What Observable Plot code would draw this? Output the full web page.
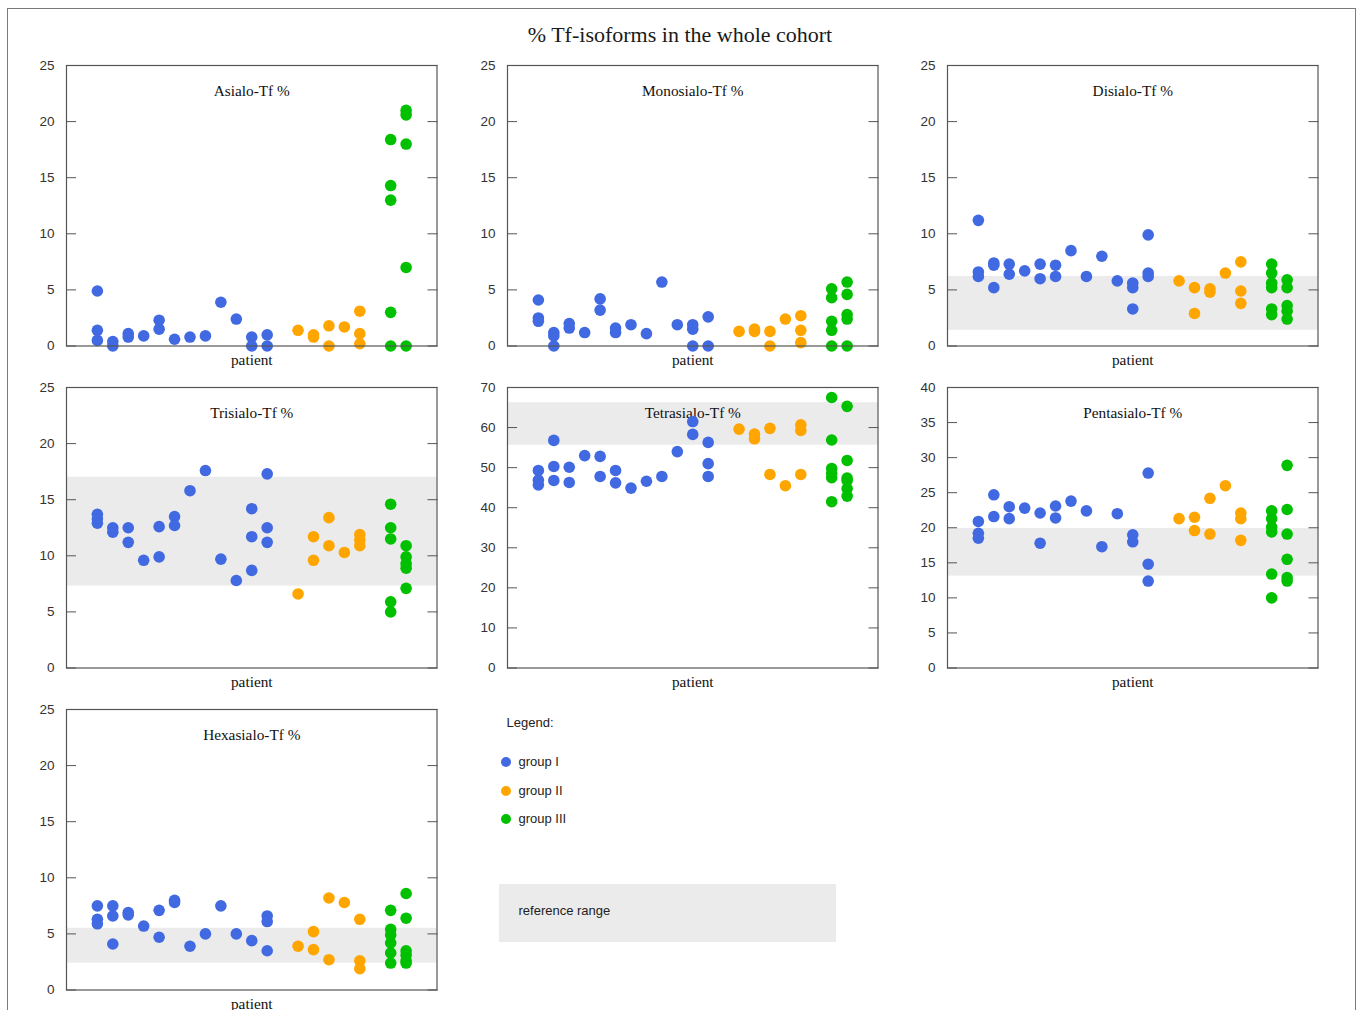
<!DOCTYPE html>
<html>
<head>
<meta charset="utf-8">
<script src="https://cdn.jsdelivr.net/npm/d3@7"></script>
<script src="https://cdn.jsdelivr.net/npm/@observablehq/plot@0.6"></script>
<style>
  html, body { margin: 0; padding: 0; background: #fff; }
  #page { position: relative; width: 1360px; height: 1010px; overflow: hidden; }
  .abs { position: absolute; }
  #border { left: 7px; top: 8px; width: 1347px; height: 1030px; border: 1.5px solid #7a7a7a; }
  #title { left: 0; width: 1360px; top: 22px; text-align: center; font: 22px "Liberation Serif", serif; color: #1a1a1a; line-height: 26px; }
  .leg { font: 13px "Liberation Sans", Arial, sans-serif; color: #222; line-height: 16px; white-space: nowrap; }
  .legdot { width: 10px; height: 10px; border-radius: 50%; }
</style>
</head>
<body>
<div id="page">
  <div id="border" class="abs"></div>
  <div id="title" class="abs">% Tf-isoforms in the whole cohort</div>
</div>
<script>
// ---------- data ----------
const groups = ["group I", "group II", "group III"];
const groupColors = ["#4169e1", "#ffa500", "#00c000"];
const groupSizes = [12, 5, 2];

const isoformTitles = ["Asialo-Tf %", "Monosialo-Tf %", "Disialo-Tf %", "Trisialo-Tf %", "Tetrasialo-Tf %", "Pentasialo-Tf %", "Hexasialo-Tf %"];
const yMax = [25, 25, 25, 25, 70, 40, 25];
const yStep = [5, 5, 5, 5, 10, 5, 5];
const refRanges = [null, null, [1.4, 6.2], [7.3, 17.0], [55.6, 66.2], [13.1, 19.9], [2.4, 5.5]];

// one inner list per patient (group I: 12, group II: 5, group III: 2)
const asialo = [
  [4.9, 1.4, 0.5], [0.4, 0.0], [1.1, 0.8], [0.9], [2.3, 1.5], [0.6], [0.8], [0.9], [3.9], [2.4], [0.8, 0.0], [1.0, 0.0],
  [1.4], [1.0, 0.8], [1.8, 0.0], [1.7], [3.1, 1.1, 0.2],
  [18.4, 14.3, 13.0, 3.0, 0.0], [21.0, 20.6, 18.0, 7.0, 0.0]
];
const monosialo = [
  [4.1, 2.5, 2.2], [1.2, 0.9, 0.0], [2.0, 1.6], [1.2], [4.2, 3.2], [1.6, 1.2], [1.9], [1.1], [5.7], [1.9], [1.9, 1.5, 0.0], [2.6, 0.0],
  [1.3], [1.5, 1.3], [1.3, 0.0], [2.4], [2.7, 1.4, 0.3],
  [5.1, 4.3, 2.2, 1.4, 0.0], [5.7, 4.6, 2.8, 2.4, 0.0]
];
const disialo = [
  [11.2, 6.6, 6.2], [7.4, 7.2, 5.2], [7.3, 6.4], [6.7], [7.3, 6.0], [7.2, 6.2], [8.5], [6.2], [8.0], [5.8], [5.6, 5.2, 3.3], [9.9, 6.5, 6.2],
  [5.8], [5.2, 2.9], [5.1, 4.8], [6.5], [7.5, 4.9, 3.8],
  [7.3, 6.5, 5.6, 5.2, 3.3, 2.8], [5.9, 5.2, 3.6, 3.1, 2.4]
];
const trisialo = [
  [13.7, 13.3, 12.9], [12.5, 12.1], [12.5, 11.2], [9.6], [12.6, 9.9], [13.5, 12.7], [15.8], [17.6], [9.7], [7.8], [14.2, 11.7, 8.7], [17.3, 12.5, 11.2],
  [6.6], [11.7, 9.6], [13.4, 10.9], [10.3], [11.9, 11.4, 10.9],
  [14.6, 12.5, 11.5, 5.9, 5.0], [10.9, 9.9, 9.3, 8.9, 7.1]
];
const tetrasialo = [
  [49.3, 46.9, 45.7], [56.8, 50.3, 46.8], [50.1, 46.3], [53.0], [52.8, 47.8], [49.3, 46.2], [44.9], [46.6], [47.8], [54.0], [61.5, 58.3], [56.3, 51.0, 47.8],
  [59.6], [58.4, 57.2], [59.8, 48.3], [45.5], [60.7, 59.3, 48.3],
  [67.5, 56.9, 49.8, 48.6, 47.5, 41.5], [65.3, 51.8, 47.4, 46.8, 44.8, 42.9]
];
const pentasialo = [
  [20.9, 19.2, 18.5], [24.7, 21.6], [23.0, 21.3], [22.8], [22.1, 17.8], [23.1, 21.4], [23.8], [22.4], [17.3], [22.0], [19.0, 18.0], [27.8, 14.8, 12.4],
  [21.3], [21.5, 19.6], [24.2, 19.1], [26.0], [22.1, 21.3, 18.2],
  [22.4, 21.3, 20.1, 19.4, 13.4, 10.0], [28.9, 22.6, 19.1, 15.5, 12.9, 12.4]
];
const hexasialo = [
  [7.5, 6.3, 5.9], [7.5, 6.6, 4.1], [6.9, 6.7], [5.7], [7.1, 4.7], [8.0, 7.8], [3.9], [5.0], [7.5], [5.0], [4.4], [6.6, 6.1, 3.5],
  [3.9], [5.2, 3.6], [8.2, 2.7], [7.8], [6.3, 2.6, 1.9],
  [7.1, 5.4, 4.9, 4.2, 3.3, 2.4], [8.6, 6.4, 3.5, 3.1, 2.6, 2.4]
];
const isoformValues = [asialo, monosialo, disialo, trisialo, tetrasialo, pentasialo, hexasialo];

// ---------- build ----------
// patient slot on the x axis: patients in order, one empty slot between groups
const patientGroup = [];
const patientSlot = [];
groupSizes.forEach((n, g) => {
  for (let k = 0; k < n; k++) {
    patientGroup.push(g);
    patientSlot.push(patientGroup.length - 1 + g);
  }
});
const nSlots = patientSlot[patientSlot.length - 1] + 1;

const page = document.getElementById("page");
const frameW = 370.5, frameH = 280.5;
const mL = 48, mR = 12, mT = 14, mB = 30;
const colLeft = [66, 506.5, 947];
const rowTop = [64.5, 387, 709];

isoformTitles.forEach((title, idx) => {
  const points = [];
  isoformValues[idx].forEach((vals, p) => {
    vals.forEach(v => points.push({slot: patientSlot[p], value: v, group: groups[patientGroup[p]]}));
  });
  const ticks = d3.range(0, yMax[idx] + 0.001, yStep[idx]);
  const ref = refRanges[idx];
  const chart = Plot.plot({
    width: mL + frameW + mR,
    height: mT + frameH + mB,
    marginLeft: mL, marginRight: mR, marginTop: mT, marginBottom: mB,
    style: {fontFamily: "'Liberation Sans', Arial, sans-serif", fontSize: "13px", background: "transparent", overflow: "visible"},
    x: {domain: [-2, nSlots + 1], axis: null},
    y: {domain: [0, yMax[idx]]},
    color: {domain: groups, range: groupColors},
    marks: [
      ref ? Plot.rect([ref], {y1: d => d[0], y2: d => d[1], fill: "#ebebeb"}) : null,
      Plot.text([title], {text: d => d, frameAnchor: "top", dy: 26, lineAnchor: "middle", fontFamily: "'Liberation Serif', serif", fontSize: 15.3, fill: "#111"}),
      Plot.dot(points, {x: "slot", y: "value", fill: "group", r: 5.8}),
      Plot.axisY({anchor: "left", ticks, tickSize: 0, tickPadding: 12, label: null, fill: "#333", fontSize: 13.5}),
      Plot.axisY({anchor: "left", ticks, tickSize: 10, dx: 10, fill: "none", stroke: "#555", label: null}),
      Plot.axisY({anchor: "right", ticks, tickSize: 10, dx: -10, fill: "none", stroke: "#555", label: null}),
      Plot.frame({stroke: "#555", strokeWidth: 1.2}),
      Plot.text(["patient"], {text: d => d, frameAnchor: "bottom", dy: 14, lineAnchor: "middle", fontFamily: "'Liberation Serif', serif", fontSize: 15.3, fill: "#111"})
    ]
  });
  const col = idx % 3, row = Math.floor(idx / 3);
  chart.style.position = "absolute";
  chart.style.left = (colLeft[col] - mL) + "px";
  chart.style.top = (rowTop[row] - mT) + "px";
  page.appendChild(chart);
});

// ---------- legend ----------
function addDiv(cls, left, top, html, extra) {
  const d = document.createElement("div");
  d.className = "abs " + cls;
  d.style.left = left + "px";
  d.style.top = top + "px";
  if (html != null) d.textContent = html;
  if (extra) Object.assign(d.style, extra);
  page.appendChild(d);
  return d;
}
addDiv("", 498.5, 884, null, {width: "337px", height: "58px", background: "#ebebeb"});
addDiv("leg", 506.5, 715, "Legend:");
groups.forEach((g, i) => {
  const cy = [762, 790.5, 819][i];
  addDiv("legdot", 501, cy - 5, null, {background: groupColors[i]});
  addDiv("leg", 518.5, cy - 8, g);
});
addDiv("leg", 518.5, 903, "reference range");
</script>
</body>
</html>
